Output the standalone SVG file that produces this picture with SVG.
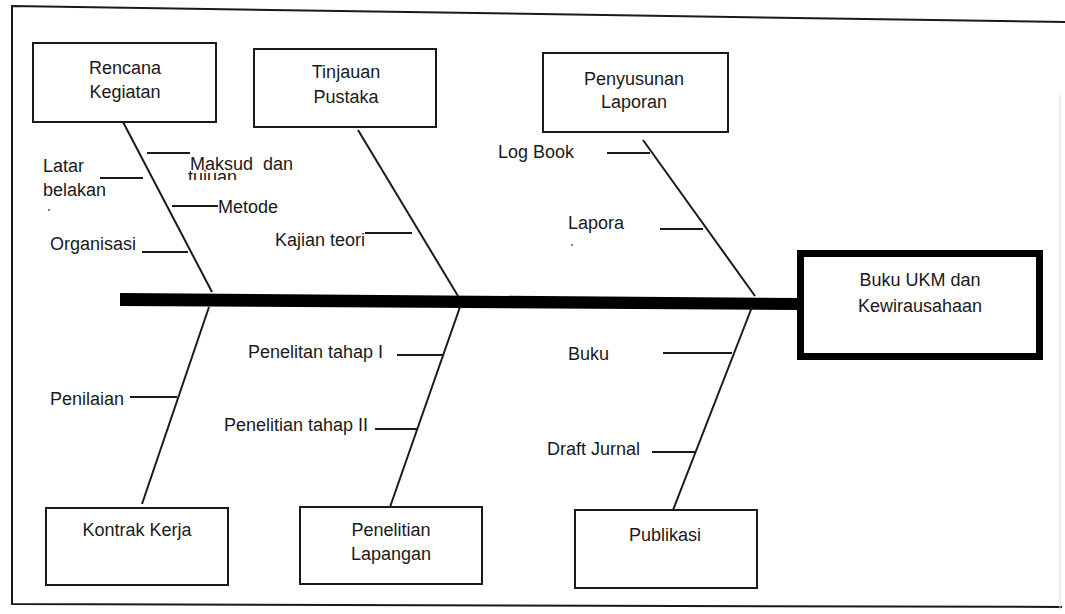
<svg xmlns="http://www.w3.org/2000/svg" width="1065" height="614" viewBox="0 0 1065 614">
<style>
text{font-family:"Liberation Sans",Arial,sans-serif;font-size:18px;fill:#1a1a1a}
.c{text-anchor:middle}
.box{fill:#fff;stroke:#1a1a1a;stroke-width:2}
.ln{stroke:#1a1a1a;stroke-width:2;fill:none}
</style>
<defs>
<clipPath id="clipTujuan"><rect x="180" y="160" width="120" height="20"/></clipPath>
</defs>
<rect width="1065" height="614" fill="#fff"/>
<g id="frame">
<polyline class="ln" points="1065,22 12,6 12,604 1062,607"/>
<line x1="1060" y1="95" x2="1060" y2="610" stroke="#d8d8d8" stroke-width="1"/>
</g>
<g id="connectors">
<polygon points="120,293 797,298 797,310 120,306" fill="#000"/>
<line class="ln" x1="123" y1="122" x2="212" y2="292"/>
<line class="ln" x1="358" y1="130" x2="458" y2="296"/>
<line class="ln" x1="643" y1="140" x2="755" y2="296"/>
<line class="ln" x1="209" y1="307" x2="142" y2="504"/>
<line class="ln" x1="460" y1="307" x2="390" y2="507"/>
<line class="ln" x1="752" y1="307" x2="673" y2="510"/>
<line class="ln" x1="147" y1="153" x2="190" y2="153"/>
<line class="ln" x1="100" y1="178" x2="143" y2="178"/>
<line class="ln" x1="172" y1="206" x2="218" y2="206"/>
<line class="ln" x1="142" y1="252" x2="188" y2="252"/>
<line class="ln" x1="365" y1="233" x2="412" y2="233"/>
<line class="ln" x1="607" y1="153" x2="650" y2="153"/>
<line class="ln" x1="660" y1="229" x2="703" y2="229"/>
<line class="ln" x1="130" y1="397" x2="177" y2="397"/>
<line class="ln" x1="397" y1="355" x2="443" y2="355"/>
<line class="ln" x1="375" y1="429" x2="418" y2="429"/>
<line class="ln" x1="663" y1="353" x2="732" y2="353"/>
<line class="ln" x1="652" y1="452" x2="695" y2="452"/>
</g>
<g id="labels">
<text x="43" y="172">Latar</text>
<text x="43" y="196">belakan</text>
<circle cx="49" cy="210" r="1" fill="#555"/>
<text x="190" y="170" xml:space="preserve">Maksud  dan</text>
<text x="188" y="183" clip-path="url(#clipTujuan)">tujuan</text>
<text x="218" y="213">Metode</text>
<text x="50" y="250">Organisasi</text>
<text x="275" y="246">Kajian teori</text>
<text x="498" y="158">Log Book</text>
<text x="568" y="229">Lapora</text>
<circle cx="572" cy="245" r="1" fill="#555"/>
<text x="50" y="405">Penilaian</text>
<text x="248" y="358">Penelitan tahap I</text>
<text x="224" y="431">Penelitian tahap II</text>
<text x="568" y="360">Buku</text>
<text x="547" y="455">Draft Jurnal</text>
</g>
<g id="node-rencana">
<rect class="box" x="33" y="43" width="183" height="79"/>
<text class="c" x="125" y="74">Rencana</text>
<text class="c" x="125" y="98">Kegiatan</text>
</g>
<g id="node-tinjauan">
<rect class="box" x="254" y="49" width="182" height="78"/>
<text class="c" x="346" y="78">Tinjauan</text>
<text class="c" x="346" y="103">Pustaka</text>
</g>
<g id="node-penyusunan">
<rect class="box" x="543" y="53" width="185" height="79"/>
<text class="c" x="634" y="85">Penyusunan</text>
<text class="c" x="634" y="108">Laporan</text>
</g>
<g id="node-buku">
<rect x="800.5" y="253.5" width="239" height="103" fill="#fff" stroke="#000" stroke-width="7"/>
<text class="c" x="920" y="286">Buku UKM dan</text>
<text class="c" x="920" y="312">Kewirausahaan</text>
</g>
<g id="node-kontrak">
<rect class="box" x="46" y="508" width="182" height="77"/>
<text class="c" x="137" y="536">Kontrak Kerja</text>
</g>
<g id="node-penelitian">
<rect class="box" x="300" y="507" width="182" height="77"/>
<text class="c" x="391" y="536">Penelitian</text>
<text class="c" x="391" y="560">Lapangan</text>
</g>
<g id="node-publikasi">
<rect class="box" x="575" y="510" width="182" height="78"/>
<text class="c" x="665" y="541">Publikasi</text>
</g>
</svg>
